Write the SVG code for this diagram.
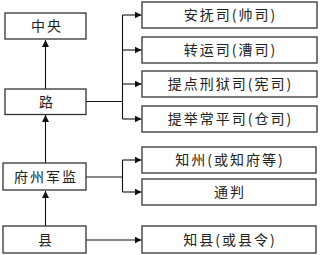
<svg xmlns="http://www.w3.org/2000/svg" width="320" height="255" viewBox="0 0 320 255">
<style>
rect{fill:#fff;stroke:#333;stroke-width:1.3}
text{font-family:"Noto Sans CJK SC","Noto Sans",sans-serif;font-size:14px;fill:#222;text-anchor:middle;letter-spacing:2px}
.c{fill:none;stroke:#111;stroke-width:1.1}
</style>
<defs>
<marker id="a" viewBox="0 0 10 10" refX="10" refY="5" markerWidth="7" markerHeight="7" markerUnits="userSpaceOnUse" orient="auto"><path d="M0,0L10,5L0,10z" fill="#111"/></marker>
</defs>
<g id="connectors">
<path class="c" d="M45.5,89V40" marker-end="url(#a)"/>
<path class="c" d="M45.5,163V115" marker-end="url(#a)"/>
<path class="c" d="M45.5,226V191" marker-end="url(#a)"/>
<path class="c" d="M86,101.5H122.5M122.5,15V119"/>
<path class="c" d="M122.5,15H141.5" marker-end="url(#a)"/>
<path class="c" d="M122.5,50H141.5" marker-end="url(#a)"/>
<path class="c" d="M122.5,84H141.5" marker-end="url(#a)"/>
<path class="c" d="M122.5,119H141.5" marker-end="url(#a)"/>
<path class="c" d="M86,177H122.5M122.5,160V192"/>
<path class="c" d="M122.5,160H141.5" marker-end="url(#a)"/>
<path class="c" d="M122.5,192H141.5" marker-end="url(#a)"/>
<path class="c" d="M86,240H141.5" marker-end="url(#a)"/>
</g>
<g id="n-zhongyang"><rect x="5" y="13" width="81" height="26"/><text x="47" y="31">中央</text></g>
<g id="n-lu"><rect x="5" y="89" width="81" height="25.5"/><text x="47" y="107">路</text></g>
<g id="n-fuzhou"><rect x="3" y="163" width="83" height="27"/><text x="46" y="181.5">府州军监</text></g>
<g id="n-xian"><rect x="3" y="226" width="83" height="27"/><text x="46" y="244.5">县</text></g>
<g id="n-anfu"><rect x="142" y="2" width="175" height="26"/><text x="230.5" y="20">安抚司(帅司)</text></g>
<g id="n-zhuanyun"><rect x="142" y="37" width="175" height="26"/><text x="230.5" y="55">转运司(漕司)</text></g>
<g id="n-tidian"><rect x="142" y="71" width="175" height="26"/><text x="230.5" y="89">提点刑狱司(宪司)</text></g>
<g id="n-tiju"><rect x="142" y="106" width="175" height="26"/><text x="230.5" y="124">提举常平司(仓司)</text></g>
<g id="n-zhizhou"><rect x="142" y="147" width="174" height="26"/><text x="230" y="165">知州(或知府等)</text></g>
<g id="n-tongpan"><rect x="142" y="179" width="174" height="26"/><text x="230" y="197">通判</text></g>
<g id="n-zhixian"><rect x="142" y="226" width="174" height="27"/><text x="230" y="244.5">知县(或县令)</text></g>
</svg>
